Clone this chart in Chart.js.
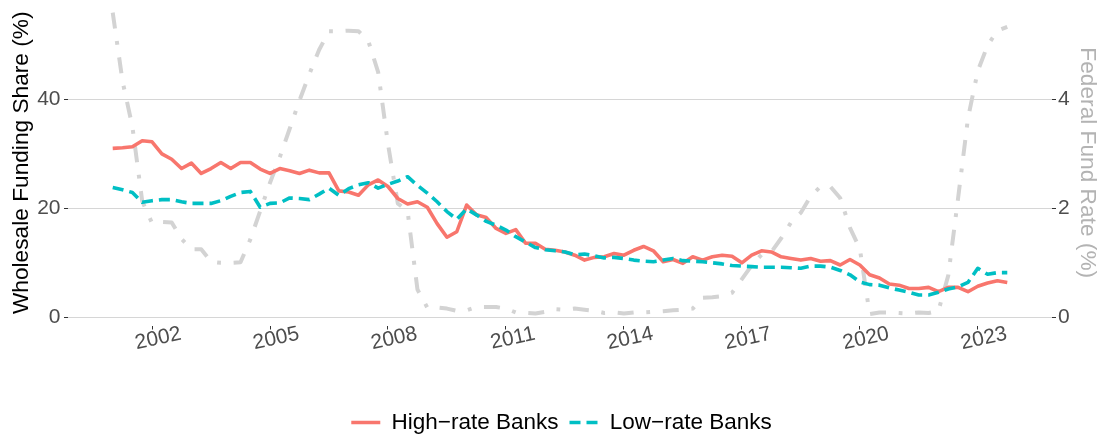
<!DOCTYPE html>
<html>
<head>
<meta charset="utf-8">
<style>
  html, body { margin: 0; padding: 0; background: #ffffff; }
  #wrap { width: 1104px; height: 439px; }
</style>
<script src="https://cdn.jsdelivr.net/npm/chart.js@4.4.1/dist/chart.umd.min.js"></script>
</head>
<body>
<div id="wrap"><canvas id="chart" width="1104" height="439"></canvas></div>
<script>
// Quarterly observations, 2001 Q1 through 2023 Q4
const firstYear = 2001;

// Wholesale funding share (%), banks paying high deposit rates
const highRateBanks = [
  31.0, 31.1, 31.3, 32.4, 32.2, 30.0, 29.0, 27.3, 28.3, 26.4,
  27.3, 28.4, 27.3, 28.4, 28.4, 27.2, 26.4, 27.3, 26.9, 26.4,
  27.0, 26.5, 26.5, 23.2, 23.0, 22.4, 24.3, 25.2, 24.0, 21.8,
  20.8, 21.2, 20.2, 17.2, 14.7, 15.7, 20.6, 18.8, 18.3, 16.3,
  15.4, 16.1, 13.6, 13.6, 12.5, 12.3, 12.0, 11.4, 10.5, 11.0,
  11.1, 11.7, 11.4, 12.3, 13.0, 12.2, 10.2, 10.6, 9.9, 11.1,
  10.5, 11.1, 11.4, 11.2, 10.0, 11.4, 12.2, 12.0, 11.1, 10.8,
  10.5, 10.8, 10.3, 10.4, 9.6, 10.6, 9.6, 7.8, 7.2, 6.1,
  5.9, 5.3, 5.3, 5.5, 4.7, 5.5, 5.5, 4.7, 5.7, 6.3,
  6.7, 6.4
];

// Wholesale funding share (%), banks paying low deposit rates
const lowRateBanks = [
  23.8, 23.4, 22.9, 21.1, 21.4, 21.6, 21.6, 21.2, 20.9, 20.9,
  20.9, 21.4, 22.2, 22.9, 23.1, 20.2, 20.9, 21.0, 21.9, 21.8,
  21.6, 22.6, 23.7, 22.4, 23.6, 24.3, 24.7, 23.7, 24.4, 25.0,
  25.8, 24.2, 22.8, 21.2, 19.4, 18.0, 19.9, 18.8, 17.6, 16.9,
  16.0, 14.8, 13.8, 12.8, 12.4, 12.2, 12.0, 11.5, 11.6, 11.3,
  10.9, 11.0, 10.8, 10.5, 10.3, 10.2, 10.5, 10.8, 10.4, 10.3,
  10.2, 10.0, 9.8, 9.5, 9.4, 9.3, 9.2, 9.2, 9.2, 9.1,
  9.0, 9.4, 9.4, 9.2, 8.6, 7.8, 6.5, 6.0, 5.9, 5.4,
  5.0, 4.6, 4.1, 4.1, 4.6, 5.2, 5.6, 6.4, 9.0, 7.9,
  8.2, 8.2
];

// Effective federal funds rate (%), quarterly average
const fedFundsRate = [
  5.59, 4.33, 3.50, 2.13, 1.73, 1.75, 1.74, 1.44, 1.25, 1.25,
  1.02, 1.00, 1.00, 1.01, 1.43, 1.95, 2.47, 2.94, 3.46, 3.98,
  4.46, 4.91, 5.25, 5.25, 5.26, 5.25, 5.07, 4.50, 3.18, 2.09,
  1.94, 0.51, 0.18, 0.18, 0.16, 0.12, 0.13, 0.19, 0.19, 0.19,
  0.16, 0.09, 0.08, 0.07, 0.10, 0.15, 0.14, 0.16, 0.14, 0.12,
  0.08, 0.09, 0.07, 0.09, 0.09, 0.10, 0.11, 0.13, 0.14, 0.16,
  0.36, 0.37, 0.39, 0.45, 0.70, 0.95, 1.15, 1.20, 1.45, 1.74,
  1.92, 2.22, 2.40, 2.40, 2.19, 1.64, 1.26, 0.06, 0.09, 0.09,
  0.08, 0.07, 0.09, 0.08, 0.12, 0.77, 2.19, 3.65, 4.52, 4.99,
  5.26, 5.33
];

const yearTicks = [2002, 2005, 2008, 2011, 2014, 2017, 2020, 2023];
const shareTicks = [0, 20, 40];
const rateTicks = [0, 2, 4];
const seriesNames = ['High\u2212rate Banks', 'Low\u2212rate Banks', 'Federal Fund Rate'];

const FONT = '"Liberation Sans", Arial, Helvetica, sans-serif';
const quarterPos = i => firstYear + i / 4;
const toPoints = values => values.map((v, i) => ({ x: quarterPos(i), y: v }));

// Fixed axis sizes; the panel runs edge to edge without label overhang padding
const fixSize = (w, h) => axis => {
  if (w !== null) axis.width = w;
  if (h !== null) axis.height = h;
  axis.paddingTop = 0;
  axis.paddingBottom = 0;
  axis.paddingLeft = 0;
  axis.paddingRight = 0;
};

// Nudges the bottom legend row into place once the layout is settled
const legendPlacement = {
  id: 'legendPlacement',
  afterLayout(chart) {
    const lg = chart.legend;
    if (!lg) return;
    const h = lg.bottom - lg.top;
    lg.top = 400.25;
    lg.bottom = lg.top + h;
    lg.left += 9.5;
    lg.right += 9.5;
  }
};

new Chart(document.getElementById('chart'), {
  type: 'line',
  data: {
    datasets: [
      {
        label: seriesNames[0],
        data: toPoints(highRateBanks),
        yAxisID: 'y',
        borderColor: '#F8766D',
        backgroundColor: '#F8766D',
        borderWidth: 3.6,
        borderJoinStyle: 'round',
        borderCapStyle: 'butt',
        pointRadius: 0,
        tension: 0,
        fill: false,
        order: 1
      },
      {
        label: seriesNames[1],
        data: toPoints(lowRateBanks),
        yAxisID: 'y',
        borderColor: '#00BFC4',
        backgroundColor: '#00BFC4',
        borderWidth: 3.6,
        borderDash: [11, 6],
        borderJoinStyle: 'round',
        borderCapStyle: 'butt',
        pointRadius: 0,
        tension: 0,
        fill: false,
        order: 0
      },
      {
        label: seriesNames[2],
        data: toPoints(fedFundsRate),
        yAxisID: 'y1',
        borderColor: '#D3D3D3',
        backgroundColor: '#D3D3D3',
        borderWidth: 4,
        borderDash: [16, 12.7, 3.8, 12.7],
        borderJoinStyle: 'round',
        borderCapStyle: 'butt',
        pointRadius: 0,
        tension: 0,
        fill: false,
        order: 2
      }
    ]
  },
  options: {
    responsive: false,
    devicePixelRatio: 1,
    animation: false,
    layout: { padding: 0 },
    plugins: {
      tooltip: { enabled: false },
      legend: {
        position: 'bottom',
        align: 'center',
        labels: {
          usePointStyle: true,
          pointStyleWidth: 29,
          padding: 11,
          color: '#000000',
          font: { family: FONT, size: 22.5 },
          generateLabels(chart) {
            return [0, 1].map(i => {
              const ds = chart.data.datasets[i];
              return {
                text: ds.label,
                datasetIndex: i,
                pointStyle: 'line',
                strokeStyle: ds.borderColor,
                fillStyle: ds.borderColor,
                lineWidth: ds.borderWidth,
                lineDash: ds.borderDash || [],
                lineCap: 'butt',
                hidden: false,
                fontColor: '#000000'
              };
            });
          }
        }
      }
    },
    scales: {
      x: {
        type: 'linear',
        min: 1999.8625,
        max: 2024.8875,
        afterBuildTicks: axis => { axis.ticks = yearTicks.map(v => ({ value: v })); },
        afterFit: fixSize(null, 70),
        grid: { drawOnChartArea: false, drawTicks: true, tickLength: 4, tickColor: '#333333' },
        border: { display: false },
        ticks: {
          autoSkip: false,
          minRotation: 12,
          maxRotation: 12,
          padding: -6,
          labelOffset: 29,
          color: '#4D4D4D',
          font: { family: FONT, size: 21, lineHeight: 1 },
          callback: v => String(v)
        }
      },
      y: {
        position: 'left',
        min: -1.5,
        max: 58.22,
        afterBuildTicks: axis => { axis.ticks = shareTicks.map(v => ({ value: v })); },
        afterFit: fixSize(68, null),
        grid: { color: '#D6D6D6', lineWidth: 1, drawTicks: true, tickLength: 4, tickColor: '#333333' },
        border: { display: false },
        ticks: { padding: 3.5, color: '#4D4D4D', font: { family: FONT, size: 21 } },
        title: {
          display: true,
          text: 'Wholesale Funding Share (%)',
          color: '#000000',
          font: { family: FONT, size: 22.7 },
          padding: { top: 8, bottom: 0 }
        }
      },
      y1: {
        position: 'right',
        min: -0.15,
        max: 5.822,
        afterBuildTicks: axis => { axis.ticks = rateTicks.map(v => ({ value: v })); },
        afterFit: fixSize(52, null),
        grid: { drawOnChartArea: false, drawTicks: true, tickLength: 4, tickColor: '#333333' },
        border: { display: false },
        ticks: { padding: 2, color: '#4D4D4D', font: { family: FONT, size: 21 } },
        title: {
          display: true,
          text: 'Federal Fund Rate (%)',
          color: '#B3B3B3',
          font: { family: FONT, size: 22.7 },
          padding: { top: 3.3, bottom: 0 }
        }
      }
    }
  },
  plugins: [legendPlacement]
});
</script>
</body>
</html>
